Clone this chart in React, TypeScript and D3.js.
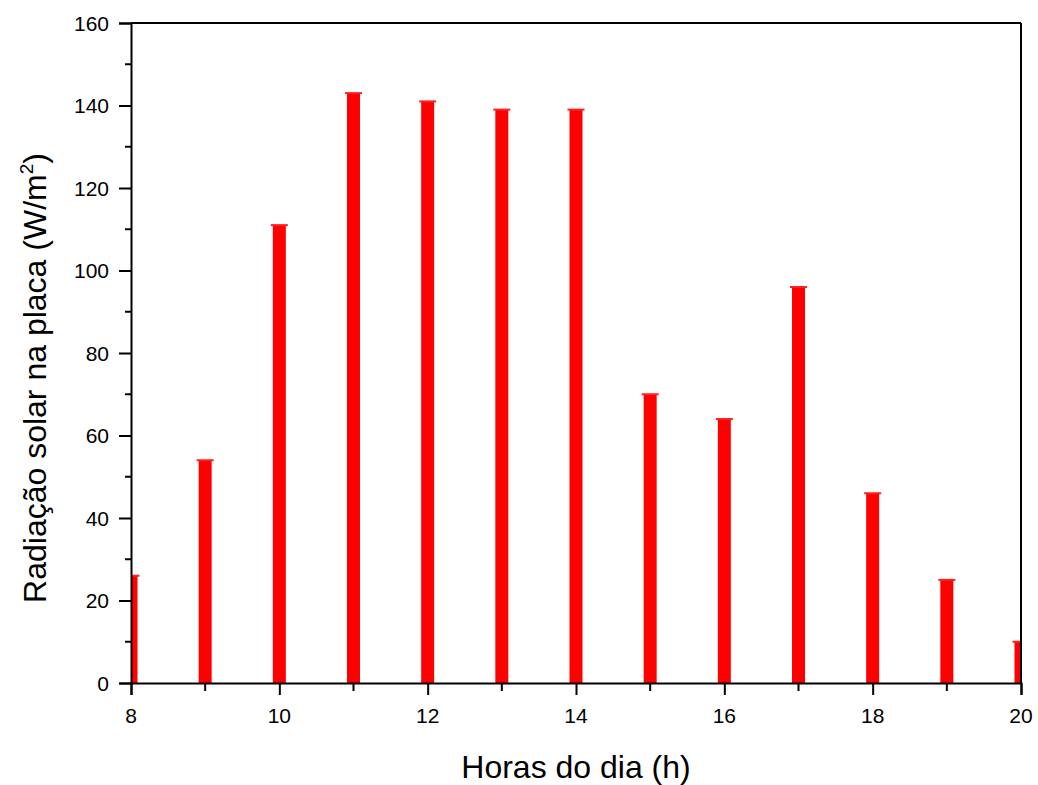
import React, {useEffect, useRef} from "react";
import * as d3 from "d3";

const hours = [8, 9, 10, 11, 12, 13, 14, 15, 16, 17, 18, 19, 20];
const radiation = [26, 54, 111, 143, 141, 139, 139, 70, 64, 96, 46, 25, 10];
const xTicks = [8, 10, 12, 14, 16, 18, 20];
const yTicks = [0, 20, 40, 60, 80, 100, 120, 140, 160];

const App = () => {
    const ref = useRef<SVGSVGElement>(null);

    useEffect(() => {
        const w = 1038;
        const h = 785;
        const m = {left: 131, right: 17, top: 23, bottom: 102};

        const svg = d3.select(ref.current);
        svg.selectAll("*").remove();
        svg.attr("width", w).attr("height", h);

        const x = d3.scaleLinear().domain([8, 20]).range([m.left, w - m.right]);
        const y = d3.scaleLinear().domain([0, 160]).range([h - m.bottom, m.top]);

        svg.append("defs").append("clipPath").attr("id", "plot")
            .append("rect")
            .attr("x", m.left).attr("y", m.top)
            .attr("width", w - m.left - m.right).attr("height", h - m.top - m.bottom);

        const bw = 13;
        const bars = svg.append("g").attr("clip-path", "url(#plot)");
        bars.selectAll("rect.bar")
            .data(hours)
            .join("rect")
            .attr("class", "bar")
            .attr("x", d => x(d) - bw / 2)
            .attr("y", (d, i) => y(radiation[i]))
            .attr("width", bw)
            .attr("height", (d, i) => y(0) - y(radiation[i]))
            .attr("fill", "#ff0000");
        // little cap on top of each bar
        bars.selectAll("rect.cap")
            .data(hours)
            .join("rect")
            .attr("class", "cap")
            .attr("x", d => x(d) - bw / 2 - 2)
            .attr("y", (d, i) => y(radiation[i]) - 1)
            .attr("width", bw + 4)
            .attr("height", 2)
            .attr("fill", "#ff2020");

        const font = "Liberation Sans, Arial, sans-serif";

        const xAxis = d3.axisBottom(x).tickValues(xTicks).tickFormat(() => "").tickSize(12);
        const gx = svg.append("g").attr("transform", `translate(0, ${y(0)})`).call(xAxis);
        gx.selectAll("line.minor")
            .data([9, 11, 13, 15, 17, 19])
            .join("line")
            .attr("class", "minor")
            .attr("x1", d => x(d)).attr("x2", d => x(d))
            .attr("y1", 0).attr("y2", 8)
            .attr("stroke", "#000").attr("stroke-width", 2);

        const yAxis = d3.axisLeft(y).tickValues(yTicks).tickFormat(() => "").tickSize(12);
        const gy = svg.append("g").attr("transform", `translate(${m.left}, 0)`).call(yAxis);
        gy.selectAll("line.minor")
            .data([10, 30, 50, 70, 90, 110, 130, 150])
            .join("line")
            .attr("class", "minor")
            .attr("x1", 0).attr("x2", -6)
            .attr("y1", d => y(d)).attr("y2", d => y(d))
            .attr("stroke", "#000").attr("stroke-width", 2);

        [gx, gy].forEach(g => {
            g.select(".domain").attr("stroke-width", 2).attr("stroke", "#000");
            g.selectAll(".tick line").attr("stroke-width", 2);
        });

        // tick labels
        svg.append("g").selectAll("text")
            .data(xTicks)
            .join("text")
            .attr("x", d => x(d))
            .attr("y", y(0) + 40)
            .attr("text-anchor", "middle")
            .attr("font-family", font)
            .attr("font-size", 21)
            .text(d => d);
        svg.append("g").selectAll("text")
            .data(yTicks)
            .join("text")
            .attr("x", m.left - 22)
            .attr("y", d => y(d) + 7.5)
            .attr("text-anchor", "end")
            .attr("font-family", font)
            .attr("font-size", 21)
            .text(d => d);

        // top and right frame
        svg.append("line")
            .attr("x1", m.left).attr("x2", w - m.right)
            .attr("y1", m.top).attr("y2", m.top)
            .attr("stroke", "#000").attr("stroke-width", 2);
        svg.append("line")
            .attr("x1", w - m.right).attr("x2", w - m.right)
            .attr("y1", m.top).attr("y2", y(0))
            .attr("stroke", "#000").attr("stroke-width", 2);

        svg.append("text")
            .attr("x", (m.left + w - m.right) / 2)
            .attr("y", 778)
            .attr("text-anchor", "middle")
            .attr("font-family", font)
            .attr("font-size", 32)
            .text("Horas do dia (h)");

        const yt = svg.append("text")
            .attr("transform", `translate(46, ${(m.top + y(0)) / 2 + 25}) rotate(-90)`)
            .attr("text-anchor", "middle")
            .attr("font-family", font)
            .attr("font-size", 32);
        yt.append("tspan").text("Radiação solar na placa (W/m");
        yt.append("tspan").attr("font-size", 19).attr("dy", -13).text("2");
        yt.append("tspan").attr("dy", 13).text(")");
    }, []);

    return <svg ref={ref} style={{position: "absolute", left: 0, top: 0}}></svg>;
};

export default App;
